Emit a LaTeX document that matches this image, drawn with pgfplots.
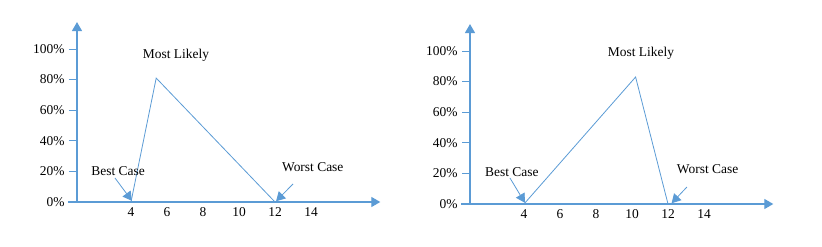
\documentclass[border=0pt]{standalone}
\usepackage{fontspec}
\setmainfont{Liberation Serif}
\usepackage{pgfplots}
\pgfplotsset{compat=1.18}
\usetikzlibrary{arrows.meta}
\definecolor{axblue}{HTML}{5B9BD5}

% common look of the two triangular distribution sketches
\pgfplotsset{
  tridist/.style={
    scale only axis, anchor=south west, clip=false,
    x=18bp, y=1.53bp,
    xmin=1, xmax=17.85, ymin=0, ymax=117.6,
    axis lines=left,
    axis line style={draw=axblue, line width=1.3bp, -{Triangle[width=10bp,length=9bp]}},
    xtick={4,6,8,10,12,14},
    ytick={0,20,40,60,80,100},
    yticklabel={\pgfmathprintnumber{\tick}\%},
    xtick style={draw=none},
    ytick style={draw=axblue, line width=0.8bp},
    tick align=outside, major tick length=8bp,
    tick label style={font=\fontsize{13.5}{15}\selectfont},
    /pgf/number format/assume math mode=true,
    xticklabel style={yshift=6bp},
    yticklabel style={xshift=-1bp},
  },
}
\tikzset{
  note/.style={font=\fontsize{13.5}{15}\selectfont, inner sep=0pt},
  pointer/.style={draw=axblue, line width=0.8bp, -{Triangle[width=10bp,length=9bp]}},
}

\begin{document}
\begin{tikzpicture}
\useasboundingbox (0,0) rectangle (822bp,247bp);

% left sketch: most likely value early
\begin{axis}[tridist, at={(77bp,45bp)}]
  \draw[axblue, line width=1.3bp] (axis cs:0.5,0) -- (axis cs:1,0);
  \addplot[axblue, line width=0.8bp] coordinates {(4,0) (5.4,81) (12,0)};
  \node[note] at (axis cs:6.5,96) {Most Likely};
  \node[note] at (axis cs:3.28,20.3) {Best Case};
  \node[note] at (axis cs:14.1,22.9) {Worst Case};
  \draw[pointer] (axis cs:3.11,15.7) -- (axis cs:4.05,0.8);
  \draw[pointer] (axis cs:13.0,11.8) -- (axis cs:12.06,0.5);
\end{axis}

% right sketch: most likely value late
\begin{axis}[tridist, at={(470bp,43bp)}]
  \draw[axblue, line width=1.3bp] (axis cs:0.5,0) -- (axis cs:1,0);
  \addplot[axblue, line width=0.8bp] coordinates {(4,0) (10.2,83) (12,0)};
  \node[note] at (axis cs:10.5,98.7) {Most Likely};
  \node[note] at (axis cs:3.33,21) {Best Case};
  \node[note] at (axis cs:14.2,22.9) {Worst Case};
  \draw[pointer] (axis cs:3.22,17) -- (axis cs:4.05,0.8);
  \draw[pointer] (axis cs:13.05,11.1) -- (axis cs:12.2,0.5);
\end{axis}
\end{tikzpicture}
\end{document}
